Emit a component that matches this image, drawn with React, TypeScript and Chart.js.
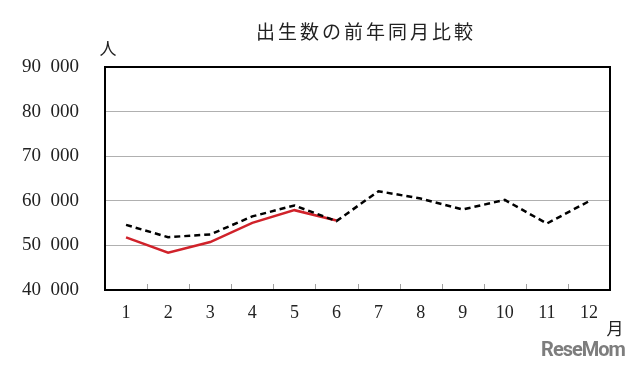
import React, { useEffect, useRef } from "react";
import { Chart, registerables } from "chart.js";

Chart.register(...registerables);

const months = ["1", "2", "3", "4", "5", "6", "7", "8", "9", "10", "11", "12"];
const currentYear = [51800, 48350, 50750, 55050, 57900, 55600];
const previousYear = [54600, 51850, 52450, 56500, 58950, 55450, 62150, 60500, 58050, 60200, 54900, 59900];
const yMin = 40000;
const yMax = 90000;
const yStep = 10000;
const titleText = "出生数の前年同月比較";
const yUnit = "人";
const xUnit = "月";
const watermark = "ReseMom";

const formatThousands = (v: number) => {
  const s = String(Math.round(v));
  if (s.length <= 3) return s;
  return s.slice(0, s.length - 3) + "\u2002" + s.slice(s.length - 3);
};

const decorPlugin = {
  id: "decor",
  afterDraw(chart: any) {
    const { ctx, chartArea } = chart;
    const xs = chart.scales.x;
    ctx.save();
    // inner tick marks between categories
    ctx.strokeStyle = "#a0a0a0";
    ctx.lineWidth = 1;
    for (let i = 1; i < months.length; i++) {
      const x = Math.round((xs.getPixelForTick(i - 1) + xs.getPixelForTick(i)) / 2) + 0.5;
      ctx.beginPath();
      ctx.moveTo(x, chartArea.bottom);
      ctx.lineTo(x, chartArea.bottom - 6);
      ctx.stroke();
    }
    // frame
    ctx.strokeStyle = "#000";
    ctx.lineWidth = 2;
    ctx.strokeRect(chartArea.left, chartArea.top, chartArea.right - chartArea.left, chartArea.bottom - chartArea.top);
    // title
    ctx.fillStyle = "#222";
    ctx.textAlign = "center";
    ctx.textBaseline = "middle";
    ctx.font = "19px 'Noto Sans CJK JP'";
    try { (ctx as any).letterSpacing = "3px"; } catch (e) {}
    ctx.fillText(titleText, 366, 32);
    try { (ctx as any).letterSpacing = "0px"; } catch (e) {}
    // units
    ctx.font = "17px 'Noto Sans CJK JP'";
    ctx.fillText(yUnit, 108, 49);
    ctx.fillText(xUnit, 615, 329);
    // watermark
    ctx.fillStyle = "#7d7d7d";
    ctx.font = "bold 20px Roboto";
    try { (ctx as any).letterSpacing = "-1px"; } catch (e) {}
    ctx.fillText(watermark, 583, 351);
    ctx.restore();
  },
};

export default function App() {
  const ref = useRef<HTMLCanvasElement | null>(null);
  useEffect(() => {
    if (!ref.current) return;
    const chart = new Chart(ref.current, {
      type: "line",
      data: {
        labels: months,
        datasets: [
          {
            label: "前年",
            data: previousYear,
            borderColor: "#000",
            borderWidth: 2.5,
            borderDash: [6, 4],
            pointRadius: 0,
            tension: 0,
            fill: false,
          },
          {
            label: "今年",
            data: currentYear,
            borderColor: "#d0222a",
            borderWidth: 2.5,
            pointRadius: 0,
            tension: 0,
            fill: false,
          },
        ],
      },
      options: {
        responsive: false,
        animation: false,
        layout: { padding: { top: 67, right: 30, left: 0, bottom: 0 } },
        plugins: { legend: { display: false }, tooltip: { enabled: false }, title: { display: false } },
        scales: {
          x: {
            offset: true,
            grid: { display: false, drawTicks: false },
            border: { display: false },
            ticks: {
              color: "#222",
              padding: 12,
              maxRotation: 0,
              font: { family: "'Liberation Serif', 'DejaVu Serif', serif", size: 18 },
            },
            afterFit: (s: any) => { s.height = 84; },
          },
          y: {
            min: yMin,
            max: yMax,
            grid: { color: "#b0b0b0", lineWidth: 1, drawTicks: false },
            border: { display: false },
            ticks: {
              stepSize: yStep,
              color: "#222",
              padding: 26,
              font: { family: "'Liberation Serif', 'DejaVu Serif', serif", size: 19 },
              callback: (v: any) => formatThousands(Number(v)),
            },
            afterFit: (s: any) => { s.width = 105; },
          },
        },
      },
      plugins: [decorPlugin],
    });
    return () => chart.destroy();
  }, []);
  return (
    <div style={{ position: "absolute", left: 0, top: 0, width: 640, height: 374, background: "#fff" }}>
      <canvas ref={ref} width={640} height={374} style={{ display: "block" }} />
    </div>
  );
}
